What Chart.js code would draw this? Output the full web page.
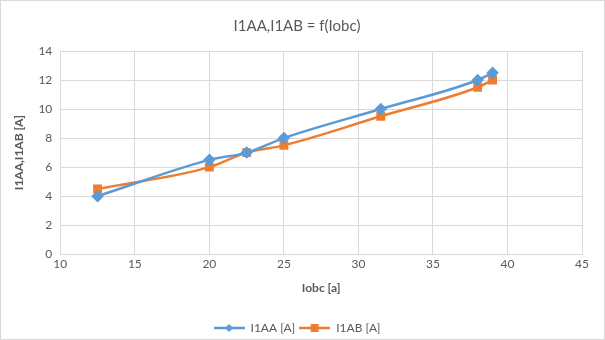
<!DOCTYPE html>
<html>
<head>
<meta charset="utf-8">
<script src="https://cdn.jsdelivr.net/npm/chart.js@4.4.0/dist/chart.umd.min.js"></script>
<style>
  html, body { margin: 0; padding: 0; background: #fff; }
  #wrap { position: relative; width: 603px; height: 338px; border: 1px solid #d9d9d9; }
</style>
</head>
<body>
<div id="wrap"><canvas id="myChart"></canvas></div>
<script>
// Daten
const iobc = [12.5, 20, 22.5, 25, 31.5, 38, 39];
const i1aa = [4, 6.5, 7, 8, 10, 12, 12.5];
const i1ab = [4.5, 6, 7, 7.5, 9.5, 11.5, 12];
const seriesNames = ['I1AA [A]', 'I1AB [A]'];
const xTicks = [10, 15, 20, 25, 30, 35, 40, 45];
const yTicks = [0, 2, 4, 6, 8, 10, 12, 14];

const blue = '#5B9BD5';
const orange = '#ED7D31';
const grey = '#595959';

// kleines Bild fuer die Legende: Linie mit Marker
function legendIcon(color, shape) {
    const c = document.createElement('canvas');
    c.width = 31; c.height = 10;
    const g = c.getContext('2d');
    g.strokeStyle = color;
    g.lineWidth = 2.5;
    g.beginPath(); g.moveTo(0, 5); g.lineTo(31, 5); g.stroke();
    g.fillStyle = color;
    if (shape === 'diamond') {
        g.beginPath(); g.moveTo(15.5, 1); g.lineTo(19.5, 5); g.lineTo(15.5, 9); g.lineTo(11.5, 5); g.closePath(); g.fill();
    } else {
        g.fillRect(11.5, 1, 8, 8);
    }
    return c;
}
const icons = [legendIcon(blue, 'diamond'), legendIcon(orange, 'square')];

function toPoints(xs, ys) {
    return xs.map((x, i) => ({ x: x, y: ys[i] }));
}

const config = {
    type: 'line',
    data: {
        datasets: [{
            label: seriesNames[0],
            data: toPoints(iobc, i1aa),
            borderColor: blue,
            backgroundColor: blue,
            borderWidth: 2.5,
            pointStyle: 'rectRot',
            pointRadius: 4.5,
            pointHoverRadius: 4.5,
            cubicInterpolationMode: 'monotone'
        }, {
            label: seriesNames[1],
            data: toPoints(iobc, i1ab),
            borderColor: orange,
            backgroundColor: orange,
            borderWidth: 2.5,
            pointStyle: 'rect',
            pointRadius: 4.5,
            pointHoverRadius: 4.5,
            cubicInterpolationMode: 'monotone'
        }]
    },
    options: {
        responsive: true,
        maintainAspectRatio: false,
        animation: false,
        layout: { padding: { left: 11, right: 22, top: 0, bottom: -5 } },
        plugins: {
            title: {
                display: true,
                text: 'I1AA,I1AB = f(Iobc)',
                color: grey,
                font: { family: 'Lato', size: 15, weight: 'normal' },
                padding: { top: 16, bottom: 16 }
            },
            legend: {
                position: 'bottom',
                labels: {
                    color: grey,
                    font: { family: 'Lato', size: 12 },
                    usePointStyle: true,
                    pointStyleWidth: 31,
                    padding: 4,
                    generateLabels: function(chart) {
                        return chart.data.datasets.map((ds, i) => ({
                            text: ds.label,
                            fontColor: grey,
                            pointStyle: icons[i],
                            datasetIndex: i,
                            hidden: false
                        }));
                    }
                }
            },
            tooltip: { enabled: false }
        },
        scales: {
            x: {
                type: 'linear',
                min: 10,
                max: 45,
                afterBuildTicks: function(axis) { axis.ticks = xTicks.map(v => ({ value: v })); },
                grid: { color: '#d9d9d9', drawTicks: false },
                border: { color: '#d9d9d9' },
                ticks: { color: grey, font: { family: 'Lato', size: 12 }, padding: 3 },
                title: {
                    display: true,
                    text: 'Iobc [a]',
                    color: grey,
                    font: { family: 'Lato', size: 12, weight: 'bold' },
                    padding: { top: 6, bottom: 23 }
                }
            },
            y: {
                min: 0,
                max: 14,
                afterBuildTicks: function(axis) { axis.ticks = yTicks.map(v => ({ value: v })); },
                grid: { color: '#d9d9d9', drawTicks: false },
                border: { color: '#d9d9d9' },
                ticks: { color: grey, font: { family: 'Lato', size: 12 }, padding: 8 },
                title: {
                    display: true,
                    text: 'I1AA,I1AB [A]',
                    color: grey,
                    font: { family: 'Lato', size: 12, weight: 'bold' },
                    padding: { top: 0, bottom: 4 }
                }
            }
        }
    }
};

const ctx = document.getElementById('myChart').getContext('2d');
const myChart = new Chart(ctx, config);
</script>
</body>
</html>
